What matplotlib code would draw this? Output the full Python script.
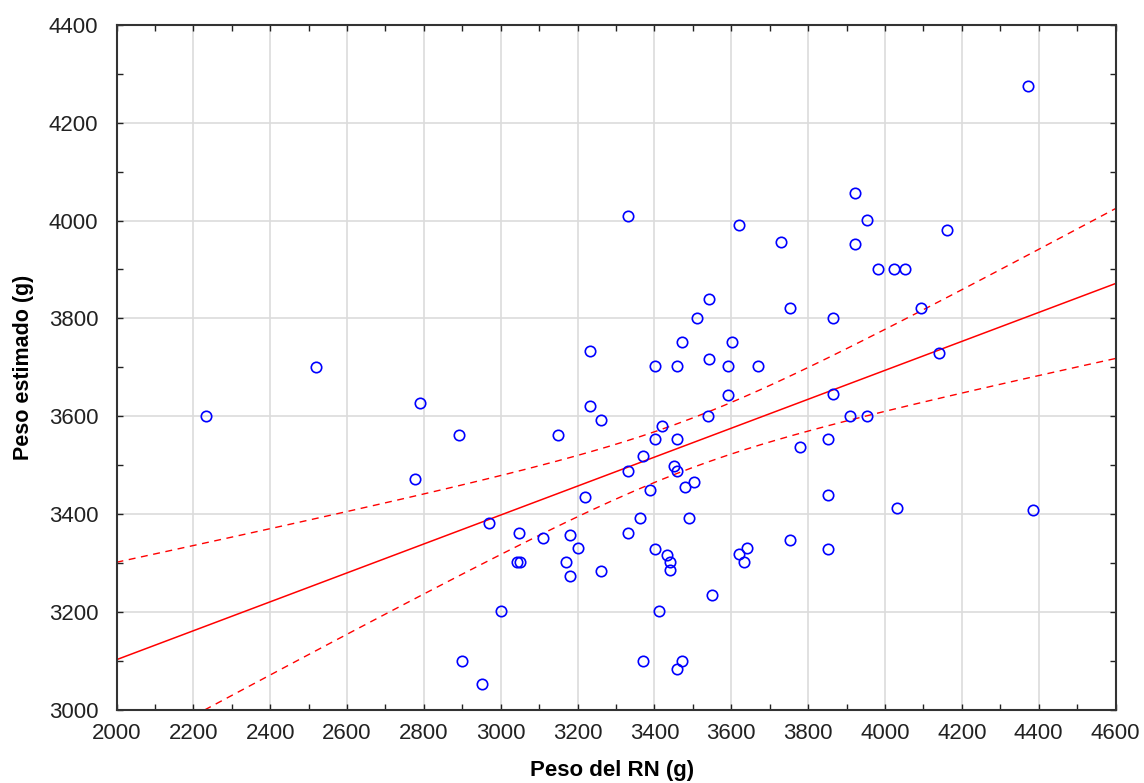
import numpy as np
import matplotlib
matplotlib.use("Agg")
import matplotlib.pyplot as plt
from matplotlib.ticker import MultipleLocator

plt.rcParams['font.family'] = ['Liberation Sans', 'DejaVu Sans']

# Peso del RN (g) vs Peso estimado (g)
peso_rn = [2234, 2520, 2790, 2777, 2891, 2970, 2898, 2950, 3002, 3048,
           3042, 3050, 3111, 3149, 3169, 3181, 3181, 3200, 3220, 3233,
           3233, 3260, 3260, 3330, 3330, 3330, 3362, 3369, 3369, 3389,
           3401, 3401, 3401, 3412, 3419, 3432, 3440, 3440, 3451, 3460,
           3460, 3460, 3460, 3471, 3471, 3479, 3490, 3503, 3510, 3542,
           3542, 3540, 3549, 3621, 3621, 3632, 3640, 3592, 3592, 3601,
           3670, 3729, 3753, 3753, 3779, 3864, 3864, 3851, 3851, 3851,
           3922, 3922, 3952, 3981, 4024, 4051, 3910, 3953, 4094, 4161,
           4141, 4031, 4373, 4385]
peso_est = [3600, 3700, 3626, 3471, 3561, 3381, 3100, 3053, 3201, 3362,
            3302, 3302, 3351, 3561, 3302, 3356, 3274, 3330, 3435, 3733,
            3620, 3593, 3283, 4010, 3488, 3362, 3392, 3519, 3100, 3448,
            3702, 3553, 3328, 3201, 3580, 3315, 3302, 3285, 3498, 3702,
            3553, 3488, 3083, 3100, 3752, 3455, 3392, 3465, 3800, 3839,
            3716, 3600, 3235, 3991, 3319, 3302, 3331, 3702, 3643, 3752,
            3702, 3957, 3822, 3347, 3536, 3800, 3646, 3553, 3438, 3328,
            4056, 3952, 4002, 3901, 3901, 3901, 3600, 3600, 3822, 3980,
            3730, 3412, 4275, 3409]

x_ticks = list(range(2000, 4601, 200))
y_ticks = list(range(3000, 4401, 200))

x = np.array(peso_rn, dtype=float)
y = np.array(peso_est, dtype=float)

# ajuste lineal y banda de confianza 95%
n = len(x)
b, a = np.polyfit(x, y, 1)
resid = y - (a + b * x)
s = np.sqrt(np.sum(resid ** 2) / (n - 2))
sxx = np.sum((x - x.mean()) ** 2)
t95 = 1.99
xs = np.linspace(2000, 4600, 60)
ys = a + b * xs
half = t95 * s * np.sqrt(1.0 / n + (xs - x.mean()) ** 2 / sxx)

fig = plt.figure(figsize=(11.44, 7.83), dpi=100)
ax = fig.add_axes([116.5 / 1144, 1 - 709.5 / 783, (1115.5 - 116.5) / 1144, (709.5 - 25) / 783])

ax.plot(x, y, 'o', ms=7.5, mfc='none', mec='#0000ff', mew=1.2, zorder=3)
ax.plot(xs, ys, color='#ff0000', lw=1.1, zorder=2)
ax.plot(xs, ys + half, color='#ff0000', lw=1.0, ls=(0, (5, 4)), zorder=2)
ax.plot(xs, ys - half, color='#ff0000', lw=1.0, ls=(0, (5, 4)), zorder=2)

ax.set_xlim(2000, 4600)
ax.set_ylim(3000, 4400)
ax.set_xticks(x_ticks)
ax.set_yticks(y_ticks)
ax.xaxis.set_minor_locator(MultipleLocator(100))
ax.yaxis.set_minor_locator(MultipleLocator(100))
ax.tick_params(which='both', direction='in', top=True, right=True,
               length=4, width=1, color='#222222')
ax.tick_params(which='major', labelsize=16, labelcolor='#222222')
ax.tick_params(axis='x', which='major', pad=10)
ax.tick_params(axis='y', which='major', pad=13)
ax.grid(True, which='major', color='#dcdcdc', lw=1.2)
ax.set_axisbelow(True)
for sp in ax.spines.values():
    sp.set_color('#333333')
    sp.set_linewidth(1.5)

ax.set_xlabel('Peso del RN (g)', fontsize=16, fontweight='bold')
ax.set_ylabel('Peso estimado (g)', fontsize=15.5, fontweight='bold')
ax.xaxis.label.set_va('center')
ax.yaxis.label.set_va('center')
ax.xaxis.set_label_coords(0.496, -0.0898)
ax.yaxis.set_label_coords(-0.0926, 0.5)

fig.savefig('out.png', dpi=100)
